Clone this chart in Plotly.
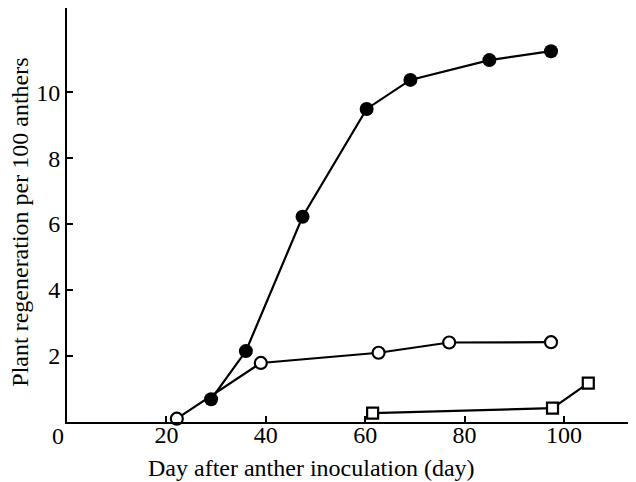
import plotly.graph_objects as go

filled_x = [29.0, 36.0, 47.4, 60.3, 69.1, 85.0, 97.4]
filled_y = [0.69, 2.15, 6.22, 9.49, 10.37, 10.97, 11.24]

open_x = [22.1, 39.0, 62.7, 76.9, 97.4]
open_y = [0.1, 1.79, 2.1, 2.41, 2.42]

square_x = [61.5, 97.7, 104.9]
square_y = [0.27, 0.42, 1.18]

x_ticks = [20, 40, 60, 80, 100]
y_ticks = [2, 4, 6, 8, 10]

x_title = "Day after anther inoculation (day)"
y_title = "Plant regeneration per 100 anthers"

FONT = "Liberation Serif, Times New Roman, serif"

fig = go.Figure()
fig.add_trace(go.Scatter(
    x=filled_x, y=filled_y, mode="lines+markers",
    line=dict(color="black", width=2.2),
    marker=dict(symbol="circle", size=14, color="black"),
    showlegend=False, cliponaxis=False))
fig.add_trace(go.Scatter(
    x=open_x, y=open_y, mode="lines+markers",
    line=dict(color="black", width=2.2),
    marker=dict(symbol="circle", size=12, color="white", line=dict(color="black", width=2.2)),
    showlegend=False, cliponaxis=False))
fig.add_trace(go.Scatter(
    x=square_x, y=square_y, mode="lines+markers",
    line=dict(color="black", width=2.2),
    marker=dict(symbol="square", size=11, color="white", line=dict(color="black", width=2.2)),
    showlegend=False, cliponaxis=False))

fig.add_annotation(text="0", x=0, y=0, xref="x", yref="y", showarrow=False,
                   xanchor="center", yanchor="middle", xshift=-9, yshift=-14,
                   font=dict(family=FONT, size=24, color="black"))
fig.add_annotation(text=x_title, x=0.429, y=0, xref="paper", yref="paper",
                   showarrow=False, xanchor="center", yanchor="middle", yshift=-46,
                   font=dict(family=FONT, size=24, color="black"))
fig.add_annotation(text=y_title, x=0, y=0.4815, xref="paper", yref="paper",
                   showarrow=False, xanchor="center", yanchor="middle", xshift=-47,
                   textangle=-90, font=dict(family=FONT, size=24, color="black"))

fig.update_layout(
    width=628, height=474,
    margin=dict(l=59, r=0, t=0, b=60),
    paper_bgcolor="white", plot_bgcolor="white",
    font=dict(family=FONT, size=24, color="black"),
    xaxis=dict(range=[0, 114.5], tickvals=x_ticks, ticks="inside", ticklen=6,
               tickwidth=2, tickcolor="black", showline=True, linecolor="black",
               linewidth=2, showgrid=False, zeroline=False, automargin=False,
               ticklabelstandoff=-10),
    yaxis=dict(range=[0, 12.55], tickvals=y_ticks, ticks="inside", ticklen=6,
               tickwidth=2, tickcolor="black", showline=True, linecolor="black",
               linewidth=2, showgrid=False, zeroline=False, automargin=False),
)

fig.write_html("out.html")
